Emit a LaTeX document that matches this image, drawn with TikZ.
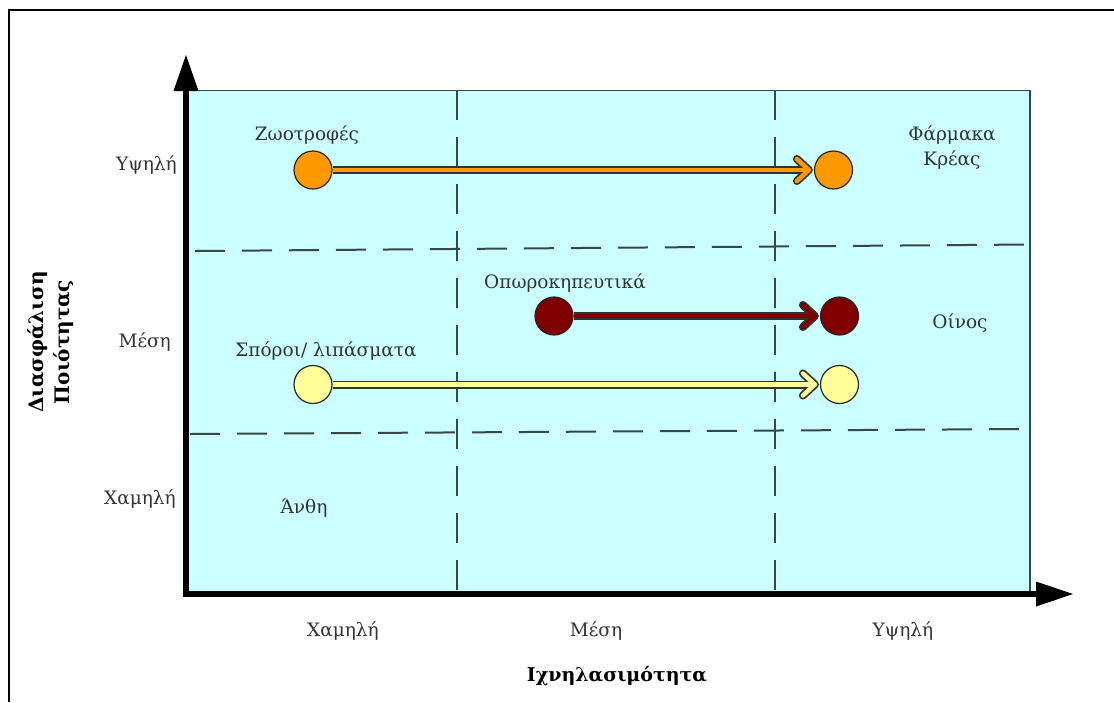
\documentclass[tikz,border=0pt]{standalone}
\usepackage{fontspec}
\setmainfont{DejaVu Serif}
\usetikzlibrary{calc}
\definecolor{plotbg}{RGB}{204,255,255}
\definecolor{orng}{RGB}{255,153,0}
\definecolor{dred}{RGB}{128,0,0}
\definecolor{ylw}{RGB}{255,255,153}
\definecolor{txt}{RGB}{50,50,50}
\definecolor{gridc}{RGB}{55,70,70}
\begin{document}
\begin{tikzpicture}[x=1pt,y=-1pt,
  lbl/.style={font=\fontsize{18.5}{25}\selectfont, text=txt, inner sep=0pt},
  ttl/.style={font=\fontsize{19}{26}\selectfont\bfseries, text=black, inner sep=0pt, align=center},
  gridline/.style={draw=gridc, line width=2pt, dash pattern=on 30pt off 17pt},
  axis/.style={line width=6pt, draw=black},
  dot/.style={circle, draw=black!85, line width=1.2pt, minimum size=38pt, inner sep=0pt},
  shaftout/.style={line width=8pt, draw=black!80},
  shaftin/.style={line width=4.5pt},
  chevout/.style={line width=8pt, draw=black!80, line join=round, line cap=round},
  chevin/.style={line width=4.5pt, line join=round, line cap=round},
]
\useasboundingbox (0,0) rectangle (1114,702);
% outer frame
\draw[line width=2.2pt] (9,702) -- (9,10) -- (1114,10);
% plot area
\fill[plotbg] (186,90) rectangle (1030,594);
\draw[draw=gridc, line width=1.5pt] (186,90.5) -- (1030,90.5) -- (1030,594);
% grid
\draw[gridline] (457,90) -- (457,594);
\draw[gridline] (775,90) -- (775,594);
\draw[gridline] (195,251) -- (1030,244.5);
\draw[gridline] (190,434) -- (1030,429);
% axes
\coordinate (O) at (186,594);
\coordinate (ytip) at (186,55);
\coordinate (xtip) at (1073,594);
\draw[axis] (O) -- (186,90);
\draw[axis] (183,594) -- (1036,594);
\fill[black] (ytip) -- (173.5,91) -- (198.5,91) -- cycle;
\fill[black] (xtip) -- (1036,581.5) -- (1036,606.5) -- cycle;
% circles
\node[dot, fill=orng] (o1) at (313,170) {};
\node[dot, fill=orng] (o2) at (833.5,170) {};
\node[dot, fill=dred] (r1) at (554,316) {};
\node[dot, fill=dred] (r2) at (839.5,316) {};
\node[dot, fill=ylw] (y1) at (313,384.5) {};
\node[dot, fill=ylw] (y2) at (839.5,384.5) {};
% arrows
\foreach \a/\b/\c in {o1/o2/orng, r1/r2/dred, y1/y2/ylw}{
  \draw[shaftout] (\a.east) -- ($(\b.west)+(-6,0)$);
  \draw[chevout] ($(\b.west)+(-17,-11)$) -- ($(\b.west)+(-5,0)$) -- ($(\b.west)+(-17,11)$);
  \draw[shaftin, draw=\c] (\a.east) -- ($(\b.west)+(-6,0)$);
  \draw[chevin, draw=\c] ($(\b.west)+(-17,-11)$) -- ($(\b.west)+(-5,0)$) -- ($(\b.west)+(-17,11)$);
}
% labels in plot
\node[lbl] (tz) at (307,135) {Ζωοτροφές};
\node[lbl, align=center] (tf) at (952,148) {Φάρμακα\\Κρέας};
\node[lbl] (to) at (565,283) {Οπωροκηπευτικά};
\node[lbl] (ts) at (326,351) {Σπόροι/ λιπάσματα};
\node[lbl] (tw) at (960,323) {Οίνος};
\node[lbl] (ta) at (304,508) {Άνθη};
% y tick labels
\node[lbl, anchor=east] (yh) at (177,165) {Υψηλή};
\node[lbl, anchor=east] (ym) at (171,342) {Μέση};
\node[lbl, anchor=east] (yl) at (176,499) {Χαμηλή};
% x tick labels
\node[lbl] (xl) at (343,631) {Χαμηλή};
\node[lbl] (xm) at (596,631) {Μέση};
\node[lbl] (xh) at (903,631) {Υψηλή};
% axis titles
\node[ttl] (xt) at (617,676) {Ιχνηλασιμότητα};
\node[ttl, rotate=90, font=\fontsize{20}{26}\selectfont\bfseries] (yt) at (51,342) {Διασφάλιση\\Ποιότητας};
\end{tikzpicture}
\end{document}
